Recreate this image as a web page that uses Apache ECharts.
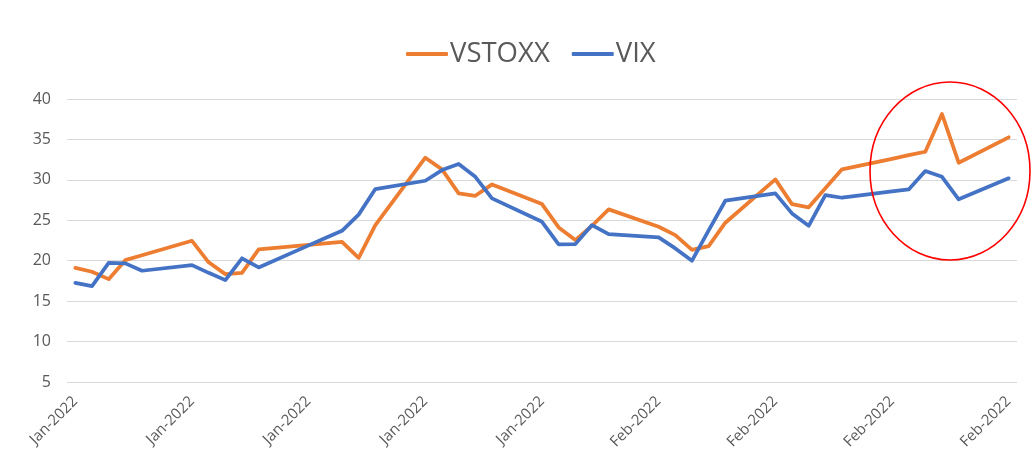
<!DOCTYPE html>
<html><head><meta charset="utf-8">
<script src="https://cdn.jsdelivr.net/npm/echarts@6/dist/echarts.min.js"></script>
<style>html,body{margin:0;padding:0;background:#fff}#c{width:1033px;height:463px}</style>
</head><body><div id="c"></div>
<script>
// Trading days (Jan 3 – Feb 28, 2022)
const tradingDates = [
  '2022-01-03','2022-01-04','2022-01-05','2022-01-06','2022-01-07',
  '2022-01-10','2022-01-11','2022-01-12','2022-01-13','2022-01-14',
  '2022-01-17','2022-01-18','2022-01-19','2022-01-20','2022-01-21',
  '2022-01-24','2022-01-25','2022-01-26','2022-01-27','2022-01-28',
  '2022-01-31','2022-02-01','2022-02-02','2022-02-03','2022-02-04',
  '2022-02-07','2022-02-08','2022-02-09','2022-02-10','2022-02-11',
  '2022-02-14','2022-02-15','2022-02-16','2022-02-17','2022-02-18',
  '2022-02-21','2022-02-22','2022-02-23','2022-02-24','2022-02-25',
  '2022-02-28'
];
const vstoxx = [
  19.12, 18.63, 17.72, 20.07, 20.67,
  22.46, 19.80, 18.34, 18.50, 21.40,
  21.96, 22.15, 22.34, 20.35, 24.41,
  32.74, 31.30, 28.33, 28.03, 29.44,
  27.00, 24.12, 22.55, 24.32, 26.35,
  24.20, 23.17, 21.35, 21.81, 24.70,
  30.06, 27.00, 26.60, 28.95, 31.30,
  32.60, 33.05, 33.48, 38.14, 32.12,
  35.26
];
const vix = [
  17.27, 16.86, 19.74, 19.67, 18.76,
  19.46, 18.50, 17.60, 20.30, 19.17,
  21.90, 22.80, 23.70, 25.70, 28.86,
  29.89, 31.21, 31.96, 30.38, 27.71,
  24.81, 22.02, 22.05, 24.41, 23.29,
  22.88, 21.52, 20.00, 23.75, 27.42,
  28.33, 25.85, 24.32, 28.12, 27.79,
  28.57, 28.82, 31.09, 30.38, 27.59,
  30.19
];
const seriesNames = ['VSTOXX', 'VIX'];
const monthNames = ['Jan','Feb','Mar','Apr','May','Jun','Jul','Aug','Sep','Oct','Nov','Dec'];

// Build a daily calendar axis (Excel date axis, base unit = day)
const DAY = 86400000;
const start = Date.parse(tradingDates[0] + 'T00:00:00Z');
const end = Date.parse(tradingDates[tradingDates.length - 1] + 'T00:00:00Z');
const calendar = [];
for (let t = start; t <= end; t += DAY) calendar.push(new Date(t).toISOString().slice(0, 10));
function mapSeries(vals) {
  const m = {};
  tradingDates.forEach((d, i) => { m[d] = vals[i]; });
  return calendar.map(d => (d in m ? m[d] : null));
}

const chart = echarts.init(document.getElementById('c'), null, {renderer: 'canvas'});
const FONT = '"Open Sans", "Noto Sans", sans-serif';
chart.setOption({
  animation: false,
  backgroundColor: '#ffffff',
  color: ['#ED7D31', '#4472C4'],
  legend: {
    data: seriesNames,
    left: 401,
    top: 35,
    icon: 'roundRect',
    itemWidth: 42,
    itemHeight: 4,
    itemGap: 22,
    textStyle: {fontFamily: FONT, fontSize: 27.5, color: '#595959', padding: [0, 0, 0, -3]}
  },
  grid: {left: 67, right: 16, top: 99, bottom: 81},
  xAxis: {
    type: 'category',
    data: calendar,
    boundaryGap: true,
    axisLine: {show: false},
    axisTick: {show: false},
    splitLine: {show: false},
    axisLabel: {
      interval: 6,
      rotate: 45,
      margin: 17,
      fontFamily: FONT,
      fontSize: 15,
      color: '#595959',
      formatter: v => monthNames[parseInt(v.slice(5, 7), 10) - 1] + '-' + v.slice(0, 4)
    }
  },
  yAxis: {
    type: 'value',
    min: 5,
    max: 40,
    interval: 5,
    axisLine: {show: false},
    axisTick: {show: false},
    axisLabel: {margin: 16, fontFamily: FONT, fontSize: 16, color: '#595959'},
    splitLine: {lineStyle: {color: '#d9d9d9', width: 1}}
  },
  series: [
    {name: seriesNames[0], type: 'line', data: mapSeries(vstoxx), connectNulls: true,
     showSymbol: false, symbol: 'none', lineStyle: {width: 3.75, cap: 'round', join: 'round'}},
    {name: seriesNames[1], type: 'line', data: mapSeries(vix), connectNulls: true,
     showSymbol: false, symbol: 'none', lineStyle: {width: 3.75, cap: 'round', join: 'round'}}
  ],
  graphic: [
    {type: 'ellipse', shape: {cx: 950, cy: 171, rx: 80, ry: 89},
     style: {fill: 'none', stroke: '#ff0000', lineWidth: 1.6}, z: 100}
  ]
});
</script>
</body></html>
